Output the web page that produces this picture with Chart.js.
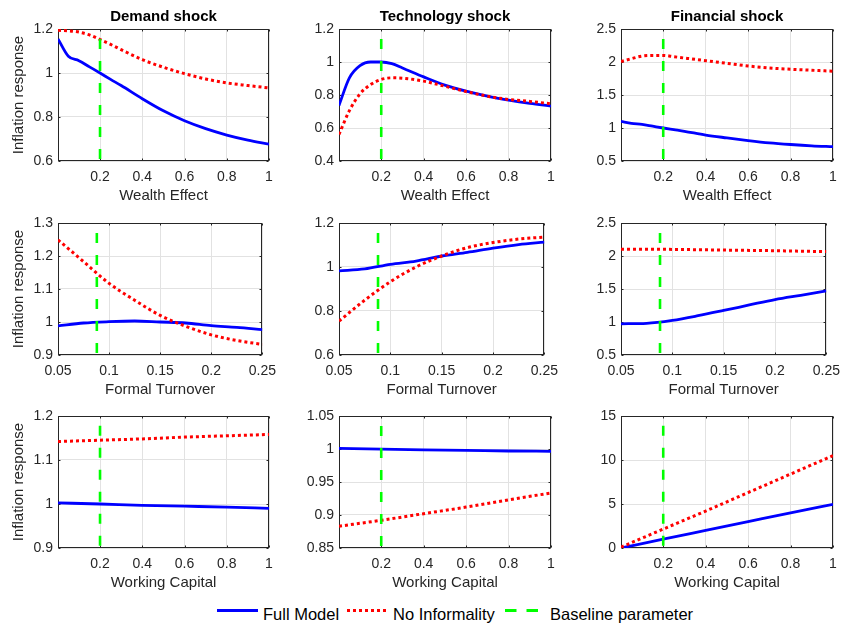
<!DOCTYPE html>
<html><head><meta charset="utf-8">
<script src="https://cdn.jsdelivr.net/npm/chart.js@4.4.1/dist/chart.umd.min.js"></script>
<style>
html,body{margin:0;padding:0;background:#fff;width:847px;height:623px;overflow:hidden;font-family:"Liberation Sans",Arial,Helvetica,sans-serif;}
.p{position:absolute;}
#legend{position:absolute;left:0;top:598px;}
</style></head><body>
<div id="wrap"></div>
<svg id="legend" width="847" height="25" xmlns="http://www.w3.org/2000/svg">
  <line x1="217" y1="12.5" x2="258" y2="12.5" stroke="#0000ff" stroke-width="3"/>
  <text x="263" y="22" font-family="Liberation Sans, Arial, sans-serif" font-size="16.5" fill="#000">Full Model</text>
  <line x1="347" y1="12.5" x2="389" y2="12.5" stroke="#ff0000" stroke-width="3" stroke-dasharray="3 3"/>
  <text x="393" y="22" font-family="Liberation Sans, Arial, sans-serif" font-size="16.5" fill="#000">No Informality</text>
  <line x1="505" y1="12.5" x2="546" y2="12.5" stroke="#00ff00" stroke-width="3" stroke-dasharray="11.5 10"/>
  <text x="550" y="22" font-family="Liberation Sans, Arial, sans-serif" font-size="16.5" fill="#000">Baseline parameter</text>
</svg>
<script>
// ---------- text ----------
const shockTitles = ['Demand shock', 'Technology shock', 'Financial shock'];
const paramLabels = ['Wealth Effect', 'Formal Turnover', 'Working Capital'];
const yAxisLabel = 'Inflation response';

// ---------- x grids ----------
const wealthX   = [0.001, 0.05, 0.1, 0.15, 0.2, 0.25, 0.3, 0.4, 0.5, 0.6, 0.7, 0.8, 0.9, 1.0];
const turnoverX = [0.05, 0.075, 0.1, 0.125, 0.15, 0.175, 0.2, 0.225, 0.25];
const capitalX  = [0.001, 0.2, 0.4, 0.6, 0.8, 1.0];

// ---------- Full Model series ----------
const demandWealthFull = [1.155, 1.076, 1.056, 1.028, 1.0, 0.971, 0.943, 0.883, 0.828, 0.783, 0.747, 0.718, 0.695, 0.677];
const techWealthFull   = [0.737, 0.904, 0.978, 1.0, 1.0, 0.99, 0.964, 0.91, 0.86, 0.823, 0.793, 0.769, 0.749, 0.733];
const finWealthFull    = [1.10, 1.07, 1.054, 1.027, 1.0, 0.975, 0.95, 0.893, 0.85, 0.81, 0.775, 0.75, 0.73, 0.717];
const demandTurnFull   = [0.988, 0.997, 1.001, 1.003, 1.0, 0.997, 0.989, 0.984, 0.977];
const techTurnFull     = [0.982, 0.991, 1.012, 1.027, 1.05, 1.067, 1.086, 1.102, 1.113];
const finTurnFull      = [0.973, 0.98, 1.025, 1.095, 1.175, 1.258, 1.34, 1.405, 1.47];
const demandCapFull    = [1.0025, 1.0, 0.997, 0.995, 0.993, 0.990];
const techCapFull      = [1.0008, 0.9998, 0.9988, 0.998, 0.997, 0.9965];
const finCapFull       = [0.0, 1.0, 2.0, 3.0, 4.0, 4.95];

// ---------- No Informality series ----------
const demandWealthNoInf = [1.194, 1.192, 1.186, 1.173, 1.152, 1.13, 1.106, 1.061, 1.026, 0.997, 0.973, 0.955, 0.943, 0.932];
const techWealthNoInf   = [0.561, 0.705, 0.807, 0.863, 0.894, 0.904, 0.902, 0.884, 0.853, 0.821, 0.793, 0.773, 0.761, 0.747];
const finWealthNoInf    = [2.006, 2.05, 2.09, 2.10, 2.10, 2.08, 2.06, 2.02, 1.98, 1.94, 1.91, 1.89, 1.875, 1.86];
const demandTurnNoInf   = [1.249, 1.183, 1.117, 1.066, 1.02, 0.987, 0.961, 0.944, 0.932];
const techTurnNoInf     = [0.754, 0.849, 0.933, 1.0, 1.05, 1.088, 1.111, 1.127, 1.136];
const finTurnNoInf      = [2.103, 2.102, 2.10, 2.095, 2.09, 2.085, 2.08, 2.073, 2.067];
const demandCapNoInf    = [1.142, 1.145, 1.148, 1.152, 1.155, 1.158];
const techCapNoInf      = [0.883, 0.892, 0.902, 0.912, 0.923, 0.9334];
const finCapNoInf       = [0.1, 2.15, 4.2, 6.3, 8.4, 10.5];

// ---------- baseline parameter (vertical line) ----------
const baselineX   = [0.2, 0.088, 0.2];
const baselineTop = [[1.155, 1.14, 2.35], [1.27, 1.155, 2.35], [1.178, 1.035, 13.9]];

// ---------- axes ----------
const xRanges = [[0.001, 1], [0.05, 0.25], [0.001, 1]];
const xTickVals = [[0.2, 0.4, 0.6, 0.8, 1], [0.05, 0.1, 0.15, 0.2, 0.25], [0.2, 0.4, 0.6, 0.8, 1]];
const yRanges = [
  [[0.6, 1.2], [0.4, 1.2], [0.5, 2.5]],
  [[0.9, 1.3], [0.6, 1.2], [0.5, 2.5]],
  [[0.9, 1.2], [0.85, 1.05], [0, 15]]
];
const yTickVals = [
  [[0.6, 0.8, 1, 1.2], [0.4, 0.6, 0.8, 1, 1.2], [0.5, 1, 1.5, 2, 2.5]],
  [[0.9, 1, 1.1, 1.2, 1.3], [0.6, 0.8, 1, 1.2], [0.5, 1, 1.5, 2, 2.5]],
  [[0.9, 1, 1.1, 1.2], [0.85, 0.9, 0.95, 1, 1.05], [0, 5, 10, 15]]
];

const rowX = [wealthX, turnoverX, capitalX];
const fullModel = [
  [demandWealthFull, techWealthFull, finWealthFull],
  [demandTurnFull, techTurnFull, finTurnFull],
  [demandCapFull, techCapFull, finCapFull]
];
const noInformality = [
  [demandWealthNoInf, techWealthNoInf, finWealthNoInf],
  [demandTurnNoInf, techTurnNoInf, finTurnNoInf],
  [demandCapNoInf, techCapNoInf, finCapNoInf]
];

// ---------- layout ----------
const colLeft = [0, 280, 562], colYW = [58, 59, 59], plotW = [211, 212, 212], rightPad = 15;
const rowTop = [0, 205, 398], rowTopPad = [29, 18, 18], plotH = 132, xAxisH = 44;
const FONT = '"Liberation Sans", Arial, Helvetica, sans-serif';
Chart.defaults.font.family = FONT;
Chart.defaults.color = '#262626';

const boxPlugin = {
  id: 'box',
  beforeDatasetsDraw(chart) {
    const {ctx, chartArea: a, scales} = chart;
    ctx.save();
    ctx.strokeStyle = '#262626'; ctx.lineWidth = 1;
    const L = Math.round(a.left) + 0.5, R = Math.round(a.right) - 0.5;
    const T = Math.round(a.top) + 0.5, B = Math.round(a.bottom) - 0.5;
    ctx.strokeRect(L, T, R - L, B - T);
    const tl = 2;
    ctx.beginPath();
    scales.x.ticks.forEach(t => {
      const px = Math.round(scales.x.getPixelForValue(t.value)) + 0.5;
      ctx.moveTo(px, B); ctx.lineTo(px, B - tl); ctx.moveTo(px, T); ctx.lineTo(px, T + tl);
    });
    scales.y.ticks.forEach(t => {
      const py = Math.round(scales.y.getPixelForValue(t.value)) + 0.5;
      ctx.moveTo(L, py); ctx.lineTo(L + tl, py); ctx.moveTo(R, py); ctx.lineTo(R - tl, py);
    });
    ctx.stroke();
    ctx.restore();
  }
};

const fmt = v => String(Math.round(v * 1e6) / 1e6);
const wrap = document.getElementById('wrap');

for (let r = 0; r < 3; r++) {
  for (let c = 0; c < 3; c++) {
    const div = document.createElement('div');
    div.className = 'p';
    const w = colYW[c] + plotW[c] + rightPad;
    const h = rowTopPad[r] + plotH + xAxisH;
    div.style.left = colLeft[c] + 'px';
    div.style.top = rowTop[r] + 'px';
    div.style.width = w + 'px';
    div.style.height = h + 'px';
    const cv = document.createElement('canvas');
    div.appendChild(cv);
    wrap.appendChild(div);

    const xs = rowX[r];
    const full = fullModel[r][c].map((y, i) => ({x: xs[i], y}));
    const noinf = noInformality[r][c].map((y, i) => ({x: xs[i], y}));
    const base = [{x: baselineX[r], y: baselineTop[r][c]}, {x: baselineX[r], y: yRanges[r][c][0]}];
    const xt = xTickVals[r], yt = yTickVals[r][c];

    new Chart(cv, {
      type: 'line',
      data: {
        datasets: [
          {label: 'Full Model', data: full, borderColor: '#0000ff', borderWidth: 2.8,
           pointRadius: 0, cubicInterpolationMode: 'monotone', order: 3},
          {label: 'No Informality', data: noinf, borderColor: '#ff0000', borderWidth: 3,
           borderDash: [3, 3], borderCapStyle: 'butt', pointRadius: 0, cubicInterpolationMode: 'monotone', order: 2},
          {label: 'Baseline parameter', data: base, borderColor: '#00ff00', borderWidth: 2.6,
           borderDash: [10, 12], borderCapStyle: 'butt', pointRadius: 0, tension: 0, order: 1}
        ]
      },
      options: {
        responsive: true, maintainAspectRatio: false, animation: false, events: [],
        layout: {padding: {top: r === 0 ? 0 : rowTopPad[r], left: 0, right: rightPad, bottom: 0}},
        plugins: {
          legend: {display: false}, tooltip: {enabled: false},
          title: {display: r === 0, fullSize: false, text: shockTitles[c], color: '#000',
                  font: {size: 15, weight: 'bold', family: FONT, lineHeight: 1.2},
                  padding: {top: 8, bottom: 3}}
        },
        scales: {
          x: {
            type: 'linear', min: xRanges[r][0], max: xRanges[r][1],
            afterBuildTicks: s => { s.ticks = xt.map(v => ({value: v})); },
            afterFit: s => { s.height = xAxisH; },
            grid: {color: '#e2e2e2', lineWidth: 1, drawTicks: false},
            border: {display: false},
            ticks: {callback: fmt, font: {size: 14, family: FONT}, color: '#262626', padding: 8, maxRotation: 0, autoSkip: false},
            title: {display: true, text: paramLabels[r], color: '#262626',
                    font: {size: 15, family: FONT, lineHeight: 1.2}, padding: {top: 0, bottom: 0}}
          },
          y: {
            type: 'linear', min: yRanges[r][c][0], max: yRanges[r][c][1],
            afterBuildTicks: s => { s.ticks = yt.map(v => ({value: v})); },
            afterFit: s => { s.width = colYW[c]; },
            grid: {color: '#e2e2e2', lineWidth: 1, drawTicks: false},
            border: {display: false},
            ticks: {callback: fmt, font: {size: 14, family: FONT}, color: '#262626', padding: 5, autoSkip: false},
            title: {display: c === 0, text: yAxisLabel, color: '#262626',
                    font: {size: 15, family: FONT, lineHeight: 1.2}, padding: {top: 10, bottom: 0}}
          }
        }
      },
      plugins: [boxPlugin]
    });
  }
}
</script>
</body></html>
